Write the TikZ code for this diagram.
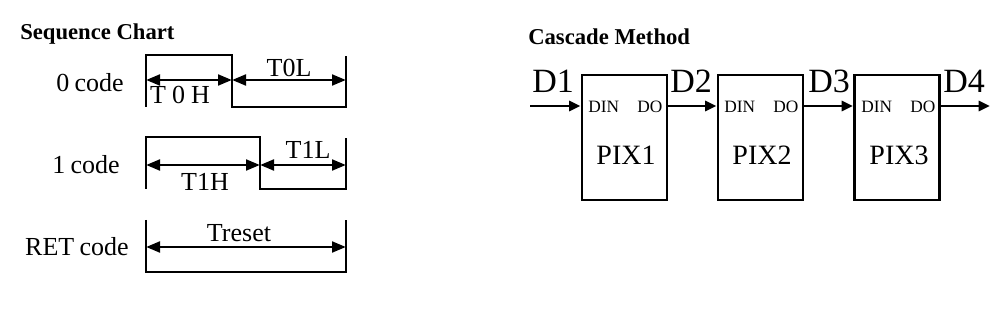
\documentclass[tikz,border=0pt]{standalone}
\usepackage{fontspec}
\setmainfont{Liberation Serif}
\usetikzlibrary{arrows.meta}
\begin{document}
\begin{tikzpicture}[x=0.75pt,y=-0.75pt,
  wire/.style={line width=2.2pt},
  dim/.style={line width=2.2pt,{Triangle[length=10.5pt,width=8pt]}-{Triangle[length=10.5pt,width=8pt]}},
  flow/.style={line width=2.2pt,-{Triangle[length=8.5pt,width=7.5pt]}},
  lbl/.style={inner sep=0pt,font=\fontsize{19.5}{22}\selectfont},
  ttl/.style={inner sep=0pt,anchor=base west,font=\fontsize{17}{20}\selectfont\bfseries},
  dlbl/.style={inner sep=0pt,anchor=base west,font=\fontsize{25.5}{28}\selectfont},
  pin/.style={inner sep=0pt,anchor=base west,font=\fontsize{13}{15}\selectfont},
  pix/.style={inner sep=0pt,anchor=base,font=\fontsize{21}{24}\selectfont},
  chip/.style={draw,line width=2.2pt,minimum width=85*0.75pt,minimum height=125*0.75pt,inner sep=0pt}]
\useasboundingbox (0,0) rectangle (1000,324);

% ---------- Sequence chart ----------
\node[ttl] (sc) at (20,40) {Sequence Chart};

% 0 code
\node[lbl] (l0) at (90,83) {0\hspace{4pt}code};
\coordinate (a0) at (146,55);
\coordinate (b0) at (232,55);
\coordinate (c0) at (232,107);
\coordinate (d0) at (346,107);
\coordinate (e0) at (346,56);
\coordinate (f0) at (146,107);
\draw[wire] (f0) -- (a0) -- (b0) -- (c0) -- (d0) -- (e0);
\coordinate (h0s) at (146,80);
\coordinate (h0m) at (232,80);
\coordinate (h0e) at (346,80);
\draw[dim] (h0s) -- (h0m);
\draw[dim] (h0m) -- (h0e);
\node[lbl] (t0h) at (180,95) {T\hspace{4.5pt}0\hspace{4.5pt}H};
\node[lbl] (t0l) at (289,68) {T0L};

% 1 code
\node[lbl] (l1) at (86,165) {1\hspace{4pt}code};
\coordinate (a1) at (146,137);
\coordinate (b1) at (260,137);
\coordinate (c1) at (260,189);
\coordinate (d1) at (346,189);
\coordinate (e1) at (346,138);
\coordinate (f1) at (146,189);
\draw[wire] (f1) -- (a1) -- (b1) -- (c1) -- (d1) -- (e1);
\coordinate (h1s) at (146,165);
\coordinate (h1m) at (260,165);
\coordinate (h1e) at (346,165);
\draw[dim] (h1s) -- (h1m);
\draw[dim] (h1m) -- (h1e);
\node[lbl] (t1h) at (205,182) {T1H};
\node[lbl] (t1l) at (308,150) {T1L};

% RET code
\node[lbl] (lr) at (77,247) {RET\hspace{4pt}code};
\coordinate (ar) at (146,220);
\coordinate (br) at (146,272);
\coordinate (cr) at (346,272);
\coordinate (dr) at (346,220);
\draw[wire] (ar) -- (br) -- (cr) -- (dr);
\coordinate (hrs) at (146,247);
\coordinate (hre) at (346,247);
\draw[dim] (hrs) -- (hre);
\node[lbl] (tr) at (239,233) {Treset};

% ---------- Cascade method ----------
\node[ttl] (cm) at (528,45) {Cascade Method};

\node[chip] (p1) at (624.5,137.5) {};
\node[chip] (p2) at (760.5,137.5) {};
\node[chip] (p3) at (897,137.5) {};

\node[pix] (x1) at (626,165) {PIX1};
\node[pix] (x2) at (762,165) {PIX2};
\node[pix] (x3) at (899,165) {PIX3};

\node[pin] (i1) at (588,113) {DIN};
\node[pin] (o1) at (637,113) {DO};
\node[pin] (i2) at (724,113) {DIN};
\node[pin] (o2) at (773,113) {DO};
\node[pin] (i3) at (861,113) {DIN};
\node[pin] (o3) at (910,113) {DO};

\node[dlbl] (D1) at (532,93) {D1};
\node[dlbl] (D2) at (670,93) {D2};
\node[dlbl] (D3) at (808,93) {D3};
\node[dlbl] (D4) at (943,93) {D4};

\coordinate (din) at (530,106);
\coordinate (dout) at (990,106);
\draw[flow] (din) -- (p1.west |- din);
\draw[flow] (p1.east |- din) -- (p2.west |- din);
\draw[flow] (p2.east |- din) -- (p3.west |- din);
\draw[flow] (p3.east |- din) -- (dout);
\end{tikzpicture}
\end{document}
